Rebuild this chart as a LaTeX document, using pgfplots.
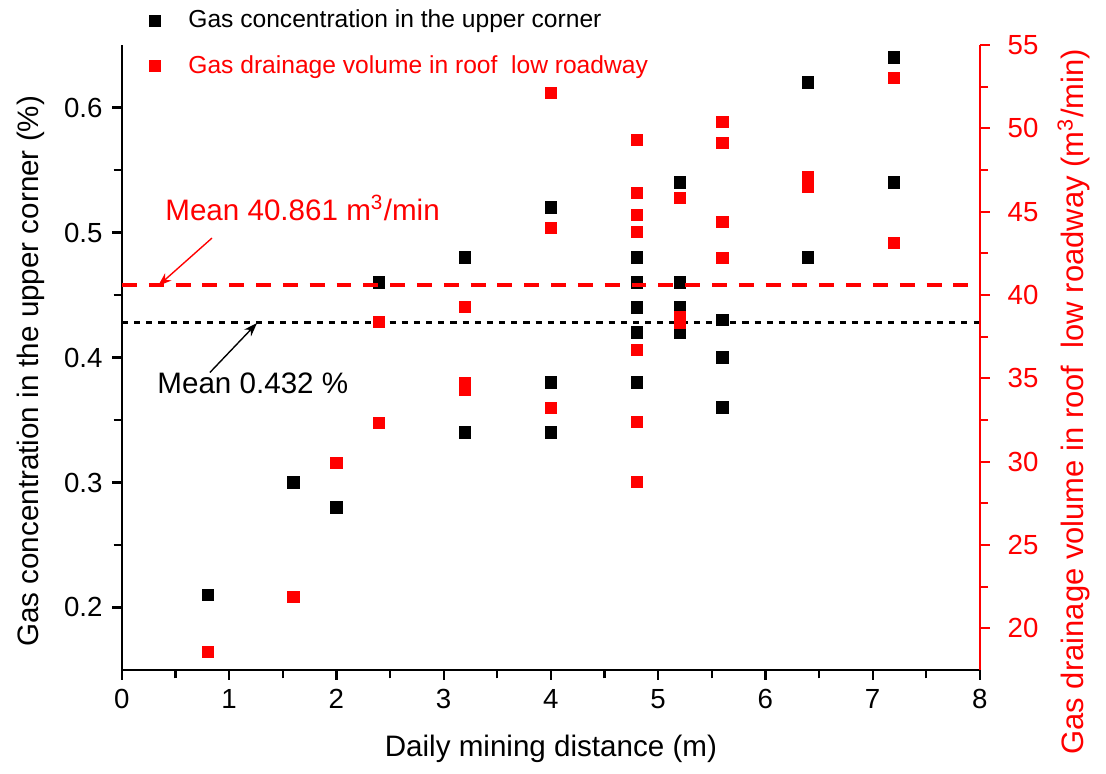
\documentclass[border=0pt]{standalone}
\usepackage{fontspec}
\setmainfont{Liberation Sans}
\usepackage{pgfplots}
\pgfplotsset{compat=1.18}
\usetikzlibrary{arrows.meta}

\pgfplotsset{
  common/.style={
    scale only axis, width=310.3pt, height=226pt,
    xmin=0, xmax=8,
    tick align=outside,
    major tick length=3.5pt, minor tick length=3pt,
    /pgf/number format/assume math mode=true,
    ticklabel style={font=\fontsize{10}{12}\selectfont},
    label style={font=\fontsize{10.7}{12}\selectfont},
  },
}

\begin{document}
\begin{tikzpicture}
\begin{axis}[common, name=ax,
    ymin=0.15, ymax=0.65,
    axis x line*=bottom, axis y line*=left,
    axis line style={-, line width=0.8pt},
    tick style={line width=0.8pt, black},
    xtick={0,1,...,8}, minor x tick num=1,
    ytick={0.2,0.3,0.4,0.5,0.6}, minor y tick num=1,
    yticklabel style={/pgf/number format/.cd, fixed, fixed zerofill, precision=1},
    xlabel={Daily mining distance (m)},
    xlabel style={yshift=-2.4pt},
    ylabel={Gas concentration in the upper corner (\%)},
    ylabel style={xshift=-5pt},
    legend style={draw=none, fill=none, font=\fontsize{8.9}{10}\selectfont,
      at={(rel axis cs:0.022,1.075)}, anchor=north west, row sep=4.5pt,
      /tikz/every odd column/.append style={column sep=8pt}},
    legend cell align=left,
    clip=false,
  ]
  \addplot[only marks, mark=square*, mark size=2pt, black] coordinates {
    (0.8,0.21) (1.6,0.30) (2.0,0.28) (2.4,0.46)
    (3.2,0.48) (3.2,0.34)
    (4.0,0.52) (4.0,0.38) (4.0,0.34)
    (4.8,0.48) (4.8,0.46) (4.8,0.44) (4.8,0.42) (4.8,0.38)
    (5.2,0.54) (5.2,0.46) (5.2,0.44) (5.2,0.42)
    (5.6,0.43) (5.6,0.40) (5.6,0.36)
    (6.4,0.62) (6.4,0.48)
    (7.2,0.64) (7.2,0.54)
  };
  \addlegendentry{Gas concentration in the upper corner}
  \addlegendimage{only marks, mark=square*, mark size=2pt, red}
  \addlegendentry{\textcolor{red}{Gas drainage volume in roof\ \ low roadway}}
  \addplot[black, line width=0.9pt, dash pattern=on 2.2pt off 2.2pt, forget plot]
    coordinates {(0,0.428) (8,0.428)};
  \node[anchor=west, inner sep=0pt, font=\fontsize{10.7}{12}\selectfont] at (axis cs:0.326,0.3796) {Mean 0.432 \%};
  \draw[-{Stealth[length=5pt,width=3.5pt]}, line width=0.5pt] (axis cs:0.82,0.388) -- (axis cs:1.26,0.4276);
  \node[red, anchor=west, inner sep=0pt, font=\fontsize{10.7}{12}\selectfont] at (axis cs:0.40,0.52) {Mean 40.861 m\textsuperscript{3}/min};
  \draw[red, -{Stealth[length=5pt,width=3.5pt]}, line width=0.5pt] (axis cs:0.84,0.4956) -- (axis cs:0.336,0.4572);
\end{axis}
\begin{axis}[common,
    ymin=17.5, ymax=55,
    axis x line=none, axis y line*=right,
    axis line style={-, line width=0.8pt, red},
    tick style={line width=0.8pt, red},
    ytick={20,25,...,55}, minor y tick num=1,
    yticklabel style={red, xshift=3pt},
    ylabel={Gas drainage volume in roof\ \ low roadway (m\textsuperscript{3}/min)},
    ylabel style={red, font=\fontsize{11.2}{13}\selectfont, xshift=-16pt},
  ]
  \addplot[red, line width=1.1pt, dash pattern=on 5.4pt off 4.3pt]
    coordinates {(0,40.6) (8,40.6)};
  \addplot[only marks, mark=square*, mark size=2pt, red] coordinates {
    (0.8,18.6) (1.6,21.9) (2.0,29.9)
    (2.4,38.4) (2.4,32.3)
    (3.2,39.3) (3.2,34.7) (3.2,34.3)
    (4.0,52.1) (4.0,44.0) (4.0,33.2)
    (4.8,49.3) (4.8,46.1) (4.8,44.8) (4.8,43.8) (4.8,36.7) (4.8,32.4) (4.8,28.8)
    (5.2,45.8) (5.2,38.7) (5.2,38.3)
    (5.6,50.4) (5.6,49.1) (5.6,44.4) (5.6,42.2)
    (6.4,47.1) (6.4,46.5)
    (7.2,53.0) (7.2,43.1)
  };
\end{axis}
\pgfresetboundingbox
\path[use as bounding box] ([shift={(-44.1pt,-37.3pt)}]ax.south west) rectangle ([shift={(45.6pt,16.3pt)}]ax.north east);
\end{tikzpicture}
\end{document}
